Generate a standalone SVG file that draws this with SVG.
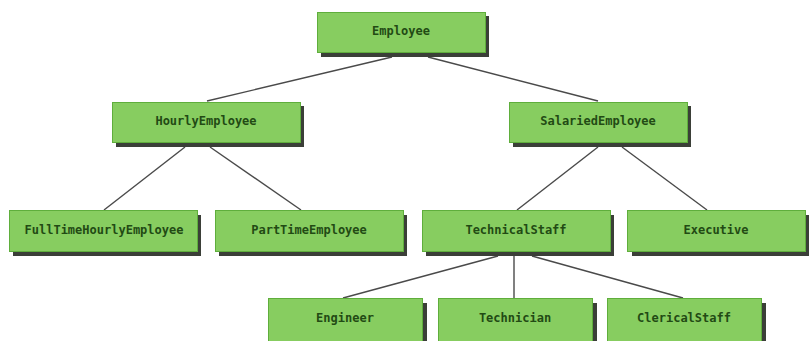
<svg xmlns="http://www.w3.org/2000/svg" width="809" height="341" viewBox="0 0 809 341">
  <style>
    .shadow { fill: #3b3f38; }
    .box { fill: #87cd60; stroke: #5fae3c; stroke-width: 1; }
    .label { font-family: "DejaVu Sans Mono", "Liberation Mono", monospace; font-weight: bold; font-size: 12px; fill: #224a14; text-anchor: middle; }
    .link { stroke: #4a4a4a; stroke-width: 1.4; fill: none; }
  </style>
  <rect width="809" height="341" fill="#ffffff"/>

  <!-- inheritance connectors -->
  <g id="connectors">
    <line class="link" x1="392" y1="57" x2="207" y2="101"/>
    <line class="link" x1="428" y1="57" x2="598" y2="101"/>
    <line class="link" x1="185" y1="147" x2="104" y2="210"/>
    <line class="link" x1="210" y1="147" x2="301" y2="210"/>
    <line class="link" x1="598" y1="147" x2="517" y2="210"/>
    <line class="link" x1="622" y1="147" x2="707" y2="210"/>
    <line class="link" x1="498" y1="256" x2="343" y2="298"/>
    <line class="link" x1="514" y1="256" x2="514" y2="298"/>
    <line class="link" x1="532" y1="256" x2="683" y2="298"/>
  </g>

  <g id="employee">
    <rect class="shadow" x="321" y="16" width="168" height="41"/>
    <rect class="box" x="317.5" y="12.5" width="168" height="40"/>
    <text class="label" x="401" y="35">Employee</text>
  </g>

  <g id="hourly-employee">
    <rect class="shadow" x="116" y="106" width="188" height="41"/>
    <rect class="box" x="112.5" y="102.5" width="188" height="40"/>
    <text class="label" x="206" y="125">HourlyEmployee</text>
  </g>

  <g id="salaried-employee">
    <rect class="shadow" x="513" y="106" width="178" height="41"/>
    <rect class="box" x="509.5" y="102.5" width="178" height="40"/>
    <text class="label" x="598" y="125">SalariedEmployee</text>
  </g>

  <g id="full-time-hourly-employee">
    <rect class="shadow" x="13" y="215" width="188" height="41"/>
    <rect class="box" x="9.5" y="210.5" width="188" height="41"/>
    <text class="label" x="104" y="234">FullTimeHourlyEmployee</text>
  </g>

  <g id="part-time-employee">
    <rect class="shadow" x="219" y="215" width="188" height="41"/>
    <rect class="box" x="215.5" y="210.5" width="188" height="41"/>
    <text class="label" x="309" y="234">PartTimeEmployee</text>
  </g>

  <g id="technical-staff">
    <rect class="shadow" x="426" y="215" width="188" height="41"/>
    <rect class="box" x="422.5" y="210.5" width="188" height="41"/>
    <text class="label" x="516" y="234">TechnicalStaff</text>
  </g>

  <g id="executive">
    <rect class="shadow" x="632" y="215" width="178" height="41"/>
    <rect class="box" x="627.5" y="210.5" width="178" height="41"/>
    <text class="label" x="716" y="234">Executive</text>
  </g>

  <g id="engineer">
    <rect class="shadow" x="272" y="303" width="155" height="41"/>
    <rect class="box" x="268.5" y="298.5" width="154" height="43"/>
    <text class="label" x="345" y="322">Engineer</text>
  </g>

  <g id="technician">
    <rect class="shadow" x="442" y="303" width="155" height="41"/>
    <rect class="box" x="438.5" y="298.5" width="154" height="43"/>
    <text class="label" x="515" y="322">Technician</text>
  </g>

  <g id="clerical-staff">
    <rect class="shadow" x="611" y="303" width="155" height="41"/>
    <rect class="box" x="607.5" y="298.5" width="154" height="43"/>
    <text class="label" x="684" y="322">ClericalStaff</text>
  </g>
</svg>
